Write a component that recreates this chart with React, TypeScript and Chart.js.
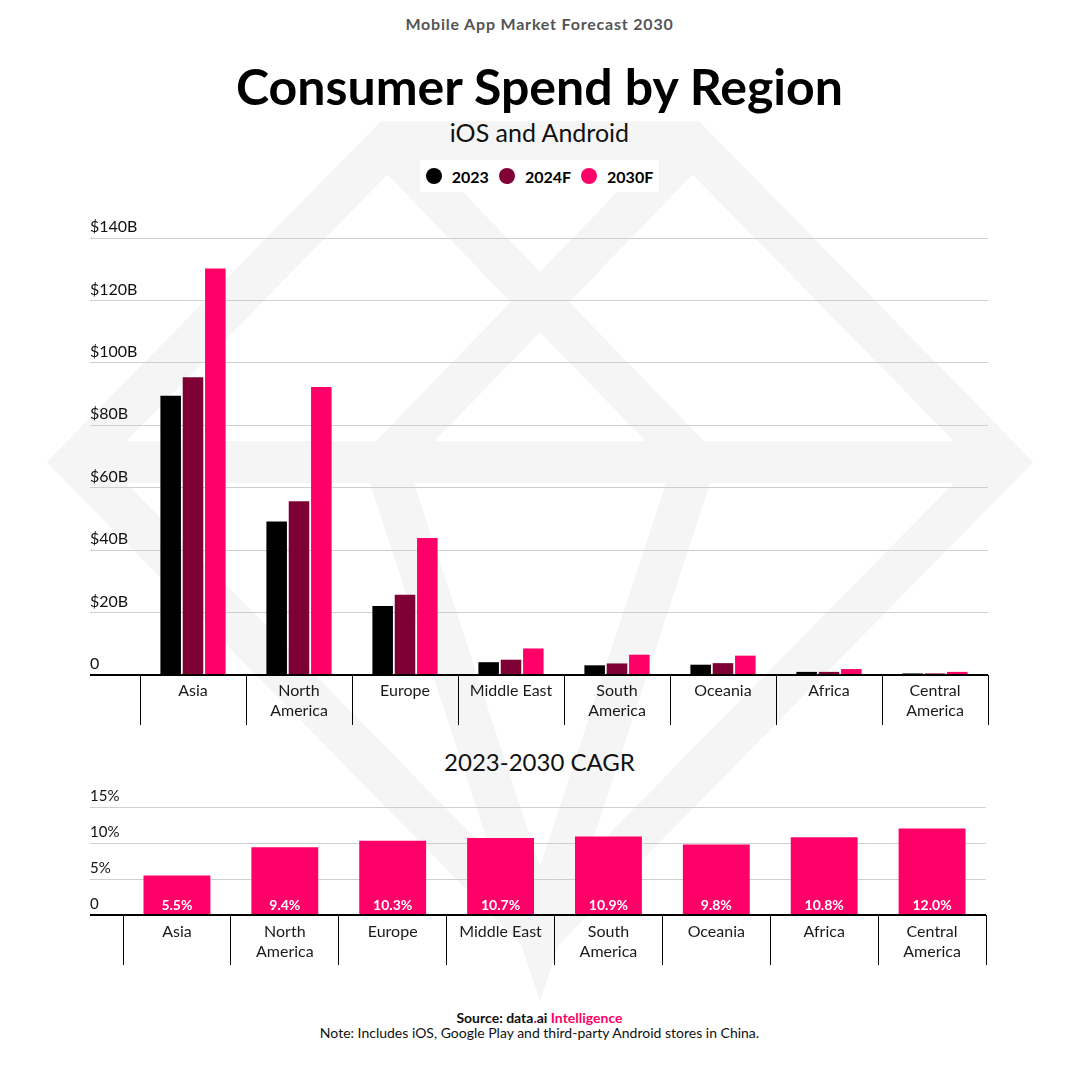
import React, { useEffect, useRef } from "react";
import { Chart, registerables } from "chart.js";

Chart.register(...registerables);

// ---------- data ----------
const regions: string[][] = [
  ["Asia"],
  ["North", "America"],
  ["Europe"],
  ["Middle East"],
  ["South", "America"],
  ["Oceania"],
  ["Africa"],
  ["Central", "America"],
];
const seriesNames = ["2023", "2024F", "2030F"];
const seriesColors = ["#000000", "#7f0035", "#ff0068"];
const spend2023 = [89.5, 49.2, 22.1, 4.1, 3.1, 3.3, 1.0, 0.5];
const spend2024F = [95.4, 55.7, 25.7, 4.9, 3.7, 3.8, 1.0, 0.5];
const spend2030F = [130.2, 92.3, 43.9, 8.5, 6.5, 6.2, 1.9, 1.0];
const cagrValues = [5.5, 9.4, 10.3, 10.7, 10.9, 9.8, 10.8, 12.0];
const spendMax = 140;
const spendStep = 20;
const cagrMax = 15;
const cagrStep = 5;

const FONT = "Lato, 'Noto Sans', 'DejaVu Sans', sans-serif";
const PINK = "#ff0068";

// redraw the zero axis line on top of bars
const zeroLinePlugin = {
  id: "zeroLine",
  afterDatasetsDraw(chart: any) {
    const { ctx, chartArea, scales } = chart;
    const y = Math.round(scales.y.getPixelForValue(0));
    ctx.save();
    ctx.strokeStyle = "#000";
    ctx.lineWidth = 2;
    ctx.beginPath();
    ctx.moveTo(scales.y.left, y);
    ctx.lineTo(chartArea.right, y);
    ctx.stroke();
    ctx.restore();
  },
};

const cagrLabelPlugin = {
  id: "cagrLabels",
  afterDatasetsDraw(chart: any) {
    const { ctx, scales } = chart;
    const meta = chart.getDatasetMeta(0);
    const base = scales.y.getPixelForValue(0);
    ctx.save();
    ctx.fillStyle = "#ffffff";
    ctx.font = `bold 14px ${FONT}`;
    ctx.textAlign = "center";
    ctx.textBaseline = "middle";
    meta.data.forEach((bar: any, i: number) => {
      ctx.fillText(cagrValues[i].toFixed(1) + "%", bar.x, base - 10);
    });
    ctx.restore();
  },
};

function SpendChart() {
  const ref = useRef<HTMLCanvasElement>(null);
  useEffect(() => {
    const seriesData = [spend2023, spend2024F, spend2030F];
    const chart = new Chart(ref.current as HTMLCanvasElement, {
      type: "bar",
      data: {
        labels: regions as any,
        datasets: seriesNames.map((name, i) => ({
          label: name,
          data: seriesData[i],
          backgroundColor: seriesColors[i],
          borderWidth: 0,
        })),
      },
      options: {
        animation: false,
        responsive: false,
        maintainAspectRatio: false,
        layout: { padding: { top: 38, left: 90, right: 91, bottom: 15 } },
        plugins: { legend: { display: false }, tooltip: { enabled: false } },
        datasets: { bar: { categoryPercentage: 0.632, barPercentage: 0.92 } },
        scales: {
          x: {
            grid: {
              offset: true,
              drawOnChartArea: false,
              drawTicks: true,
              tickLength: 50,
              color: "#000",
              lineWidth: 1,
            },
            border: { display: false },
            ticks: {
              padding: -45,
              autoSkip: false,
              maxRotation: 0,
              color: "#1a1a1a",
              font: { family: FONT, size: 16, lineHeight: 1.3 },
            },
            afterFit: (s: any) => {
              s.height = 50;
            },
          },
          y: {
            min: 0,
            max: spendMax,
            border: { display: false },
            grid: {
              tickLength: 50,
              color: (c: any) => (c.tick && c.tick.value === 0 ? "#000" : "#cfcfcf"),
              lineWidth: (c: any) => (c.tick && c.tick.value === 0 ? 2 : 1),
            },
            ticks: {
              stepSize: spendStep,
              crossAlign: "far",
              labelOffset: -11,
              padding: 0,
              color: "#111",
              font: { family: FONT, size: 16 },
              callback: (v: any) => (Number(v) === 0 ? "0" : `$${v}B`),
            },
            afterFit: (s: any) => {
              s.width = 50;
            },
          },
        },
      } as any,
      plugins: [zeroLinePlugin],
    });
    return () => chart.destroy();
  }, []);
  return (
    <canvas
      ref={ref}
      width={1079}
      height={540}
      style={{ position: "absolute", left: 0, top: 200, width: 1079, height: 540, zIndex: 1 }}
    />
  );
}

function CagrChart() {
  const ref = useRef<HTMLCanvasElement>(null);
  useEffect(() => {
    const chart = new Chart(ref.current as HTMLCanvasElement, {
      type: "bar",
      data: {
        labels: regions as any,
        datasets: [
          {
            label: "2023-2030 CAGR",
            data: cagrValues,
            backgroundColor: PINK,
            borderWidth: 0,
          },
        ],
      },
      options: {
        animation: false,
        responsive: false,
        maintainAspectRatio: false,
        layout: { padding: { top: 26, left: 90, right: 93, bottom: 16 } },
        plugins: { legend: { display: false }, tooltip: { enabled: false } },
        datasets: { bar: { categoryPercentage: 0.62, barPercentage: 1 } },
        scales: {
          x: {
            grid: {
              offset: true,
              drawOnChartArea: false,
              drawTicks: true,
              tickLength: 50,
              color: "#000",
              lineWidth: 1,
            },
            border: { display: false },
            ticks: {
              padding: -44,
              autoSkip: false,
              maxRotation: 0,
              color: "#1a1a1a",
              font: { family: FONT, size: 16, lineHeight: 1.3 },
            },
            afterFit: (s: any) => {
              s.height = 50;
            },
          },
          y: {
            min: 0,
            max: cagrMax,
            border: { display: false },
            grid: {
              tickLength: 33,
              color: (c: any) => (c.tick && c.tick.value === 0 ? "#000" : "#cfcfcf"),
              lineWidth: (c: any) => (c.tick && c.tick.value === 0 ? 2 : 1),
            },
            ticks: {
              stepSize: cagrStep,
              crossAlign: "far",
              labelOffset: -11,
              padding: 0,
              color: "#111",
              font: { family: FONT, size: 15 },
              callback: (v: any) => (Number(v) === 0 ? "0" : `${v}%`),
            },
            afterFit: (s: any) => {
              s.width = 33;
            },
          },
        },
      } as any,
      plugins: [zeroLinePlugin, cagrLabelPlugin],
    });
    return () => chart.destroy();
  }, []);
  return (
    <canvas
      ref={ref}
      width={1079}
      height={200}
      style={{ position: "absolute", left: 0, top: 781, width: 1079, height: 200, zIndex: 1 }}
    />
  );
}

function Watermark() {
  const c = "#f5f5f5";
  return (
    <svg
      width={1079}
      height={1085}
      style={{ position: "absolute", left: 0, top: 0, zIndex: 0 }}
    >
      <g fill="none" stroke={c} strokeWidth={42} strokeLinejoin="miter" strokeMiterlimit={10}>
        <polygon points="390,142 690,142 1004,462 540,934 76,462" />
        <line x1={76} y1={462} x2={1004} y2={462} />
        <line x1={385} y1={142} x2={695} y2={462} />
        <line x1={695} y1={142} x2={385} y2={462} />
        <polyline points="385,462 540,934 695,462" />
      </g>
    </svg>
  );
}

function Legend() {
  return (
    <div
      style={{
        position: "absolute",
        left: 0,
        width: 1079,
        top: 160,
        height: 32,
        display: "flex",
        justifyContent: "center",
        zIndex: 2,
      }}
    >
      <div
        style={{
          background: "#fff",
          display: "flex",
          alignItems: "center",
          padding: "0 6px",
          height: 32,
        }}
      >
        {seriesNames.map((n, i) => (
          <div key={n} style={{ display: "flex", alignItems: "center", marginLeft: i === 0 ? 0 : 10 }}>
            <span
              style={{
                width: 16,
                height: 16,
                borderRadius: 8,
                background: seriesColors[i],
                display: "inline-block",
                marginRight: 10,
              }}
            />
            <span style={{ fontFamily: FONT, fontWeight: 700, fontSize: 16, color: "#000" }}>{n}</span>
          </div>
        ))}
      </div>
    </div>
  );
}

export default function App() {
  const center: React.CSSProperties = {
    position: "absolute",
    left: 0,
    width: 1079,
    textAlign: "center",
    fontFamily: FONT,
    zIndex: 2,
    whiteSpace: "nowrap",
  };
  return (
    <div
      style={{
        position: "absolute",
        left: 0,
        top: 0,
        width: 1079,
        height: 1085,
        background: "#fff",
        overflow: "hidden",
      }}
    >
      <Watermark />
      <div style={{ ...center, top: 13, fontSize: 16, lineHeight: "22px", color: "#555", fontWeight: 700, letterSpacing: 0.8 }}>
        Mobile App Market Forecast 2030
      </div>
      <div style={{ ...center, top: 56, fontSize: 50, lineHeight: "60px", color: "#000", fontWeight: 700 }}>
        Consumer Spend by Region
      </div>
      <div style={{ ...center, top: 117, fontSize: 25, lineHeight: "30px", color: "#111" }}>
        iOS and Android
      </div>
      <Legend />
      <SpendChart />
      <div style={{ ...center, top: 747, fontSize: 24, lineHeight: "30px", color: "#111" }}>
        2023-2030 CAGR
      </div>
      <CagrChart />
      <div style={{ ...center, top: 1009, fontSize: 14, lineHeight: "17px", color: "#111", fontWeight: 700 }}>
        Source: data<span style={{ color: PINK }}>.</span>ai <span style={{ color: PINK }}>Intelligence</span>
      </div>
      <div style={{ ...center, top: 1024, fontSize: 14, lineHeight: "17px", color: "#111" }}>
        Note: Includes iOS, Google Play and third-party Android stores in China.
      </div>
    </div>
  );
}
